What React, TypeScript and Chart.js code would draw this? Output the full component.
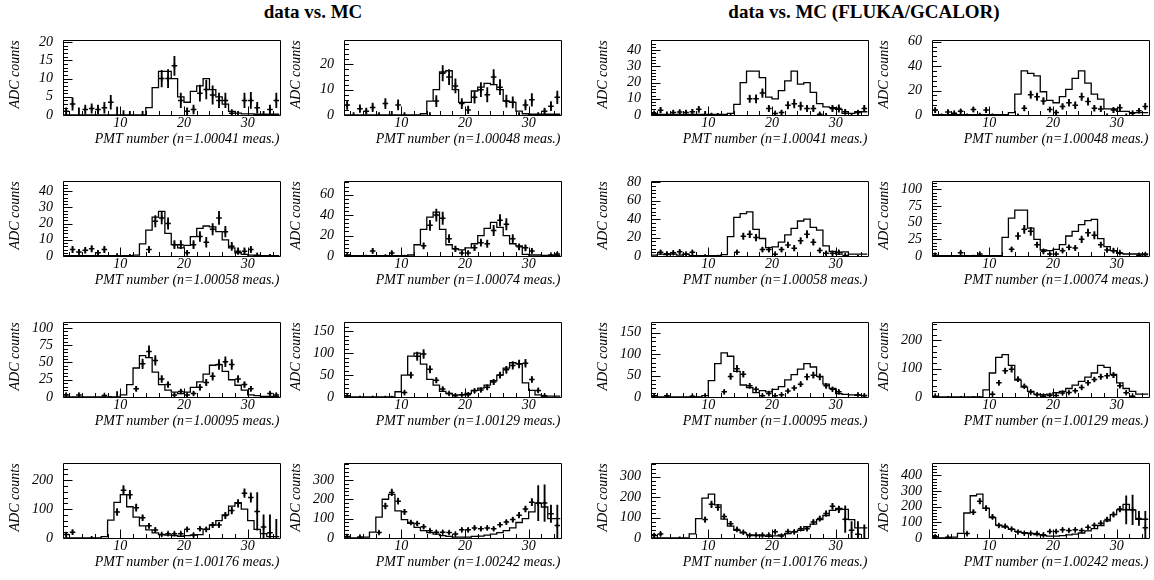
import React, { useEffect, useRef } from "react";
import { Chart, registerables } from "chart.js";

Chart.register(...registerables);

const SERIF = "'Liberation Serif', 'Times New Roman', Times, serif";

// bin edges (PMT number), 34 bins of width 1
const BIN_EDGES = [1, 2, 3, 4, 5, 6, 7, 8, 9, 10, 11, 12, 13, 14, 15, 16, 17, 18, 19, 20, 21, 22, 23, 24, 25, 26, 27, 28, 29, 30, 31, 32, 33, 34, 35];
const X_TICKS = [10, 20, 30];
const RUN_LABELS = ["1.00041", "1.00048", "1.00058", "1.00074", "1.00095", "1.00129", "1.00176", "1.00242"];

// measured data (shared between the two halves), value per bin
const D1 = [1, 3, 0, 1.5, 1.8, 1.5, 2, 3.5, 0, 0, 0, 0, 0, 0, 0, 10, 10, 13.5, 4, 1, 1.5, 6, 7, 5.5, 4, 4, 0.5, 0, 4, 4, 2, 0, 1.5, 4];
const E1 = [1, 1.7, 2, 1.2, 1.3, 1.2, 1.5, 1.9, 2.2, 1.2, 1, 0, 1, 0, 0, 2.3, 2.5, 2.6, 2, 1, 1.2, 2.2, 2.6, 2.5, 2, 2, 1, 1, 2, 2.2, 1.5, 1, 1.2, 2];
const D2 = [4, 0, 2.5, 1.5, 3, 0, 4.5, 0, 4, 0, 0, 0, 0, 0, 5.5, 16.5, 15, 11.5, 4.5, 2, 7, 10, 8, 15, 11, 5.5, 5, 0, 4, 6, 0, 1.5, 3.5, 7];
const E2 = [1.8, 1, 1.5, 1.2, 1.7, 1, 2, 1.5, 2, 1, 0, 0, 0, 1, 2.2, 3, 3, 2.8, 2, 1.5, 2.3, 2.8, 2.8, 3, 3, 2.4, 2.2, 1, 2, 2.5, 1, 1.2, 1.8, 2.5];
const D3 = [0, 4, 2.5, 3.5, 4.5, 2, 4, 0, 0, 0, 0, 0, 0, 4, 21.5, 23.5, 20, 7, 7, 2, 7, 12, 8.5, 16.5, 23.5, 15, 6, 3, 3, 4, 0.5, 0, 0, 0];
const E3 = [0, 2, 1.6, 1.8, 2, 1.4, 2, 0, 1.5, 0, 1, 0, 0, 2, 3.5, 3.7, 3.5, 2.5, 2.5, 1.5, 2.5, 3, 3, 3.5, 4, 3.3, 2.5, 2, 2, 2, 1, 0, 1, 0];
const D4 = [1, 0, 0, 0, 5, 0, 0, 3, 0, 0, 0, 0, 10, 30, 40, 37, 17, 7, 3, 3, 8, 13, 12, 25, 35, 31, 17, 9, 8, 5, 0, 0, 1, 2];
const E4 = [1, 0, 0, 1, 2.2, 0, 1.5, 1.8, 0, 1, 0, 0, 3, 5, 6, 6, 4, 2.6, 1.8, 1.8, 2.8, 3.5, 3.5, 5, 5.5, 5.5, 4, 3, 3, 2.2, 0, 0, 1, 1.4];
const D5 = [3, 0, 3, 0, 0, 0, 2, 0, 0, 0, 0, 12, 48, 66, 53, 26, 18, 3, 8, 3, 5, 14, 21, 30, 47, 51, 47, 26, 18, 12, 0, 0, 5, 3];
const E5 = [2, 0, 2, 0, 0, 0, 1.5, 1, 8, 0, 0, 3.5, 7, 8, 7, 5, 4, 2, 3, 2, 2.5, 4, 4.5, 5.5, 7, 7, 7, 5, 4, 3.5, 0, 0, 2.5, 2];
const D6 = [3, 0, 0, 0, 0, 0, 0, 0, 0, 10, 50, 93, 98, 63, 38, 18, 8, 3, 5, 5, 14, 16, 22, 34, 50, 62, 72, 75, 77, 40, 15, 3, 0, 0];
const E6 = [2, 0, 2, 0, 2, 0, 2, 2, 0, 3.5, 7, 9.5, 10, 8, 6, 4.5, 3, 2, 2.5, 2.5, 4, 4, 5, 6, 7, 8, 8.5, 9, 9, 6.5, 4, 2, 0, 0];
const D7 = [12, 20, 0, 0, 0, 0, 0, 0, 90, 165, 150, 105, 70, 42, 28, 12, 15, 15, 15, 30, 10, 32, 30, 45, 45, 78, 95, 120, 155, 140, 92, 38, 18, 0];
const E7 = [8, 8, 0, 0, 6, 0, 0, 0, 12, 16, 15, 12, 10, 8, 7, 5, 5, 5, 5, 7, 5, 7, 7, 8, 8, 11, 12, 13, 15, 16, 65, 42, 62, 65];
const D8 = [8, 0, 5, 0, 0, 28, 165, 235, 190, 135, 80, 75, 58, 38, 30, 30, 28, 20, 42, 42, 52, 48, 52, 48, 68, 82, 95, 118, 150, 185, 180, 180, 125, 65];
const E8 = [8, 0, 6, 0, 0, 8, 15, 17, 16, 13, 10, 10, 9, 7, 7, 7, 7, 6, 8, 8, 9, 9, 9, 9, 10, 11, 12, 14, 15, 18, 90, 95, 45, 105];

// MC histograms (left half: standard MC, right half: FLUKA/GCALOR)
const M1 = [0, 0, 0, 0, 0, 0, 0, 0, 0, 0, 0, 0, 0, 0, 2, 7.5, 12, 12, 10, 5, 3.5, 6.5, 8, 10, 7, 5, 3, 1, 0.5, 0.3, 0.3, 0.2, 0.2, 0.2];
const M2 = [0.3, 0, 0, 0, 0, 0, 0, 0, 0, 0, 0, 0, 0, 0.5, 5.5, 10, 17, 17.5, 10, 5, 5, 9.5, 11, 12.5, 12, 10, 5.5, 5, 1.5, 0.5, 0.3, 0.3, 0.3, 0.3];
const M3 = [1, 0.3, 0.3, 0.3, 0.3, 0.3, 0.3, 0.3, 0.3, 0.3, 0.3, 0.3, 0.3, 1, 6.5, 20, 27, 27, 23, 11, 10, 15, 21, 27, 19, 20, 14, 7, 5, 4.5, 3.5, 1, 1, 2];
const M4 = [0.5, 0.3, 0.3, 0.3, 0.3, 0.3, 0.3, 0.3, 0.3, 0.3, 0.3, 0.3, 0.3, 2, 17, 36, 34, 32, 19, 12, 10, 15, 21, 30, 36, 26, 17, 13, 5, 5, 3, 3, 2, 2];
const M5 = [0.2, 0.2, 0.2, 0.2, 0.2, 0.2, 0.2, 0.2, 0.2, 0.2, 0.2, 0.2, 0.5, 7.5, 16, 24, 27.5, 14, 7, 5, 6.5, 12, 17, 18.5, 18, 15, 10, 5, 2, 1, 0.5, 0.2, 0.2, 0.2];
const M6 = [0.3, 0.3, 0.3, 0.3, 0.3, 0.3, 0.3, 0.3, 0.3, 0.3, 0.3, 1, 11, 26, 38, 43, 26, 11, 7, 6, 8, 12, 20, 27, 33, 28, 20, 12, 10, 1.5, 1, 1, 0.5, 0.5];
const M7 = [2, 1, 2, 1.5, 2, 1, 2, 0.5, 0.5, 0.5, 0.5, 0.5, 1.5, 21, 42, 46, 48, 29, 19, 9, 10, 15, 23, 30, 38, 40, 31, 28, 11, 5, 2, 4.5, 2, 2];
const M8 = [0.5, 0.5, 0.5, 0.5, 0.5, 0.5, 0.5, 0.5, 0.5, 0.5, 0.5, 0.5, 28, 57, 69, 69, 42, 25, 9, 8, 10, 17, 30, 37, 47, 53, 55, 26, 14, 8, 4, 3, 3, 3];
const M9 = [0.3, 0.3, 0.3, 0.3, 0.3, 0.3, 0.3, 0.3, 0.3, 0.3, 3, 18, 42, 60, 57, 36, 18, 10, 7, 5, 7, 14, 22, 33, 46, 47, 37, 25, 17, 10, 3, 2, 1, 1];
const M10 = [0.3, 0.3, 0.3, 0.3, 0.3, 0.3, 0.3, 0.3, 0.3, 12, 50, 93, 100, 75, 40, 27, 13, 8, 5, 5, 8, 15, 20, 27, 37, 50, 66, 78, 76, 32, 15, 5, 2, 2];
const M11 = [0.5, 0.5, 0.5, 0.5, 0.5, 0.5, 0.5, 0.5, 0.5, 3, 38, 78, 103, 95, 60, 28, 22, 10, 15, 12, 18, 24, 40, 52, 65, 78, 70, 48, 30, 20, 8, 6, 5, 4];
const M12 = [0.5, 0.5, 0.5, 0.5, 0.5, 0.5, 0.5, 0.5, 0.5, 25, 85, 140, 150, 112, 60, 35, 20, 10, 8, 10, 15, 20, 30, 42, 55, 70, 85, 112, 105, 80, 50, 30, 20, 10];
const M13 = [0, 0, 0, 0, 0, 0, 0, 5, 62, 123, 150, 108, 72, 42, 28, 18, 12, 10, 8, 6, 8, 10, 12, 30, 45, 60, 80, 110, 122, 100, 60, 30, 15, 5];
const M14 = [0, 0, 0, 0, 5, 30, 108, 200, 225, 140, 95, 75, 55, 38, 28, 20, 12, 8, 5, 5, 5, 8, 10, 15, 20, 28, 38, 52, 80, 100, 135, 180, 160, 100];
const M15 = [0.5, 0.5, 0.5, 0.5, 0.5, 0.5, 0.5, 20, 95, 195, 215, 162, 92, 58, 38, 25, 15, 12, 10, 8, 10, 15, 22, 30, 38, 55, 68, 90, 110, 135, 145, 140, 90, 50];
const M16 = [0.5, 0.5, 0.5, 0.5, 5, 30, 160, 270, 280, 190, 130, 82, 70, 55, 42, 35, 28, 22, 15, 12, 12, 15, 20, 25, 32, 45, 60, 80, 110, 150, 180, 215, 180, 120];

// panel order: row by row, columns 0..3
const DATA_SETS = [D1, D2, D1, D2, D3, D4, D3, D4, D5, D6, D5, D6, D7, D8, D7, D8];
const ERR_SETS = [E1, E2, E1, E2, E3, E4, E3, E4, E5, E6, E5, E6, E7, E8, E7, E8];
const MC_SETS = [M1, M2, M3, M4, M5, M6, M7, M8, M9, M10, M11, M12, M13, M14, M15, M16];
const RUN_IDX = [0, 1, 0, 1, 2, 3, 2, 3, 4, 5, 4, 5, 6, 7, 6, 7];
const Y_MAX = [20.5, 29.5, 46, 61, 46, 73, 81, 112, 108, 170, 174, 264, 258, 385, 365, 477];
const Y_STEP = [5, 10, 10, 20, 10, 20, 20, 25, 25, 50, 50, 100, 100, 100, 100, 100];

// layout
const COL_LEFT = [63, 344, 651, 932];
const ROW_TOP = [36, 177, 318, 459];
const PLOT_W = 218;
const PLOT_H = 79;
const PAD_L = 63;
const PAD_T = 14;
const PAD_R = 4;
const AXIS_H = 36;

function Panel({ idx }: { idx: number }) {
  const ref = useRef<HTMLCanvasElement>(null);
  const col = idx % 4;
  const row = Math.floor(idx / 4);
  const W = PAD_L + PLOT_W + PAD_R;
  const H = PAD_T + PLOT_H + AXIS_H;

  useEffect(() => {
    const data = DATA_SETS[idx];
    const err = ERR_SETS[idx];
    const mc = MC_SETS[idx];
    const ymax = Y_MAX[idx];
    const ystep = Y_STEP[idx];
    const yTicks: number[] = [];
    for (let v = 0; v <= ymax + 1e-9; v += ystep) yTicks.push(v);

    const hist = BIN_EDGES.map((x, i) => ({ x, y: mc[Math.min(i, mc.length - 1)] }));
    const pts: any[] = [];
    const bars: any[] = [];
    data.forEach((v, i) => {
      const xc = BIN_EDGES[i] + 0.5;
      if (v > 0) pts.push({ x: xc, y: v });
      if (err[i] > 0) bars.push({ x: xc, y: [Math.max(0, v - err[i]), v + err[i]] });
    });

    const font = { family: SERIF, style: "italic" as const, size: 14 };

    const framePlugin = {
      id: "rootFrame",
      afterDraw(chart: any) {
        const { ctx, chartArea: a, scales } = chart;
        const xs = scales.x;
        const ys = scales.y;
        ctx.save();
        ctx.strokeStyle = "#000";
        ctx.lineWidth = 1;
        const l = Math.round(a.left) + 0.5;
        const t = Math.round(a.top) + 0.5;
        const r = Math.round(a.right) + 0.5;
        const b = Math.round(a.bottom) + 0.5;
        ctx.beginPath();
        ctx.rect(l, t, r - l, b - t);
        const minor = ystep / 5;
        for (let k = 0; k * minor <= ymax + 1e-9; k++) {
          const py = Math.round(ys.getPixelForValue(k * minor)) + 0.5;
          const len = k % 5 === 0 ? 9 : 4.5;
          ctx.moveTo(l, py);
          ctx.lineTo(l + len, py);
        }
        for (let v = 2; v <= 34; v += 2) {
          const px = Math.round(xs.getPixelForValue(v)) + 0.5;
          const len = v % 10 === 0 ? 9 : 4.5;
          ctx.moveTo(px, b);
          ctx.lineTo(px, b - len);
        }
        ctx.stroke();
        ctx.restore();
      },
    };

    const chart = new Chart(ref.current as HTMLCanvasElement, {
      type: "line",
      data: {
        datasets: [
          {
            type: "line",
            data: hist,
            stepped: "after",
            borderColor: "#000",
            borderWidth: 1.3,
            pointRadius: 0,
            fill: false,
            order: 3,
          } as any,
          {
            type: "bar",
            data: bars,
            backgroundColor: "#000",
            borderWidth: 0,
            barThickness: 1.2,
            grouped: false,
            order: 2,
          } as any,
          {
            type: "line",
            data: pts,
            showLine: false,
            pointStyle: "cross",
            pointRadius: 2.8,
            pointBorderWidth: 1.5,
            pointBorderColor: "#000",
            pointBackgroundColor: "#000",
            order: 1,
          } as any,
        ],
      },
      options: {
        responsive: false,
        animation: false,
        devicePixelRatio: 1,
        layout: { padding: { left: 0, top: PAD_T, right: PAD_R, bottom: 0 } },
        plugins: { legend: { display: false }, tooltip: { enabled: false }, title: { display: false } },
        scales: {
          x: {
            type: "linear",
            min: 1,
            max: 35,
            offset: false,
            grid: { display: false, drawTicks: false, offset: false },
            border: { display: false },
            afterBuildTicks: (s: any) => {
              s.ticks = X_TICKS.map((v) => ({ value: v }));
            },
            ticks: { font, color: "#000", padding: 0, maxRotation: 0, autoSkip: false },
            title: {
              display: true,
              text: `PMT number (n=${RUN_LABELS[RUN_IDX[idx]]} meas.)`,
              align: "end",
              font,
              color: "#000",
              padding: { top: 0, bottom: 3 },
            },
            afterFit: (s: any) => {
              s.height = AXIS_H;
            },
          },
          y: {
            type: "linear",
            min: 0,
            max: ymax,
            grid: { display: false, drawTicks: false },
            border: { display: false },
            afterBuildTicks: (s: any) => {
              s.ticks = yTicks.map((v) => ({ value: v }));
            },
            ticks: { font, color: "#000", padding: 10, autoSkip: false },
            title: {
              display: true,
              text: "ADC counts",
              align: "end",
              font,
              color: "#000",
              padding: { top: 7, bottom: 0 },
            },
            afterFit: (s: any) => {
              s.width = PAD_L;
            },
          },
        },
      } as any,
      plugins: [framePlugin],
    });
    return () => chart.destroy();
  }, [idx]);

  return (
    <canvas
      ref={ref}
      width={W}
      height={H}
      style={{
        position: "absolute",
        left: COL_LEFT[col] - PAD_L,
        top: ROW_TOP[row] - PAD_T,
        width: W,
        height: H,
      }}
    />
  );
}

export default function App() {
  const titleStyle = (cx: number): React.CSSProperties => ({
    position: "absolute",
    left: cx - 200,
    width: 400,
    top: 1,
    textAlign: "center",
    fontFamily: SERIF,
    fontWeight: "bold",
    fontSize: 19,
    color: "#000",
    whiteSpace: "nowrap",
  });
  return (
    <div
      style={{
        position: "absolute",
        left: 0,
        top: 0,
        width: 1154,
        height: 580,
        overflow: "hidden",
        background: "#fff",
      }}
    >
      <div style={titleStyle(313)}>data vs. MC</div>
      <div style={titleStyle(864)}>data vs. MC (FLUKA/GCALOR)</div>
      {MC_SETS.map((_, i) => (
        <Panel key={i} idx={i} />
      ))}
    </div>
  );
}
